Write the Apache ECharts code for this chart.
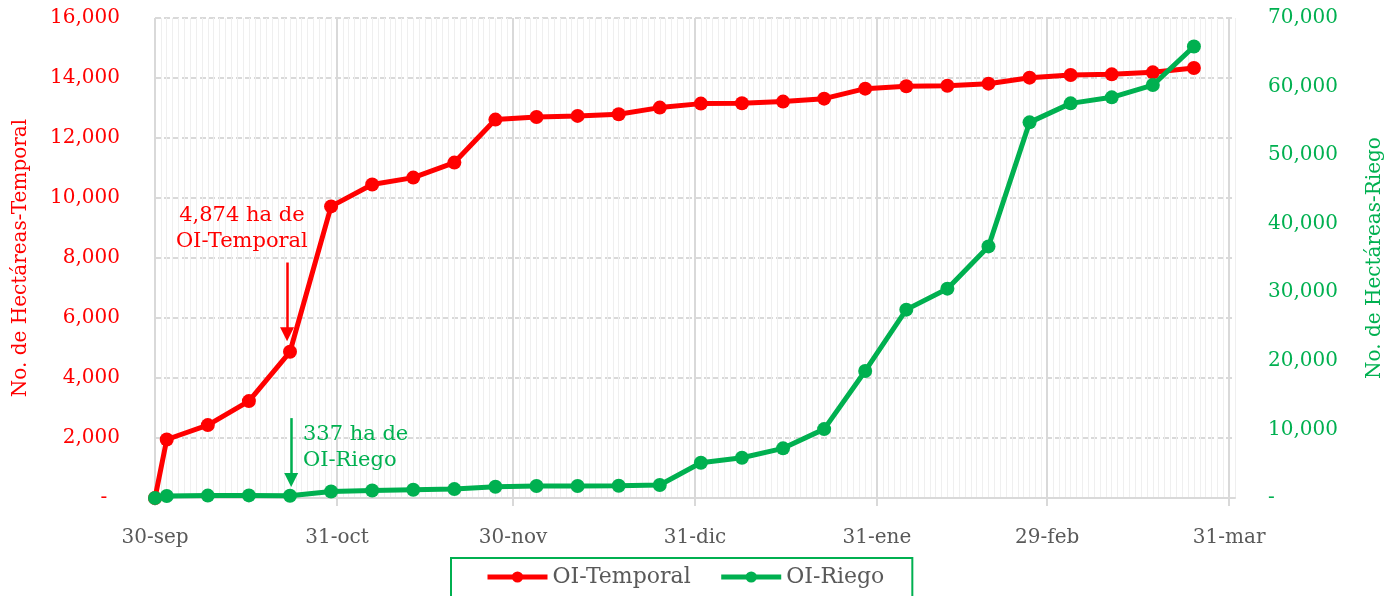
<!DOCTYPE html>
<html>
<head>
<meta charset="utf-8">
<script src="https://cdn.jsdelivr.net/npm/echarts@6/dist/echarts.min.js"></script>
<style>
html,body{margin:0;padding:0;background:#fff;}
#chart{width:1386px;height:596px;}
</style>
</head>
<body>
<div id="chart"></div>
<script>
// ---- data ----
const dates = ['2023-09-30','2023-10-02','2023-10-09','2023-10-16','2023-10-23','2023-10-30',
  '2023-11-06','2023-11-13','2023-11-20','2023-11-27','2023-12-04','2023-12-11','2023-12-18',
  '2023-12-25','2024-01-01','2024-01-08','2024-01-15','2024-01-22','2024-01-29','2024-02-05',
  '2024-02-12','2024-02-19','2024-02-26','2024-03-04','2024-03-11','2024-03-18','2024-03-25'];
const temporal = [0,1950,2430,3230,4874,9720,10450,10680,11180,12614,12700,12736,12790,13013,
  13146,13160,13213,13312,13645,13723,13740,13811,14011,14100,14122,14189,14333];
const riego = [0,300,350,380,337,950,1100,1200,1300,1650,1750,1750,1780,1900,
  5140,5870,7240,10045,18530,27470,30530,36690,54780,57550,58430,60220,65850];
const monthEndDates = ['2023-09-30','2023-10-31','2023-11-30','2023-12-31','2024-01-31','2024-02-29','2024-03-31'];
const monthEndLabels = ['30-sep','31-oct','30-nov','31-dic','31-ene','29-feb','31-mar'];
const startDate = '2023-09-30';
const endDate = '2024-04-01';
const seriesNames = ['OI-Temporal','OI-Riego'];
const annoTemporal = {date:'2023-10-23', value:4874, text:'4,874 ha de\nOI-Temporal'};
const annoRiego = {date:'2023-10-23', value:337, text:'337 ha de\nOI-Riego'};

// ---- helpers ----
function dayOf(s){
  const p = s.split('-').map(Number);
  const q = startDate.split('-').map(Number);
  return Math.round((Date.UTC(p[0],p[1]-1,p[2]) - Date.UTC(q[0],q[1]-1,q[2]))/86400000);
}
const xs = dates.map(dayOf);
const monthEnds = monthEndDates.map(dayOf);
const xMax = dayOf(endDate);
const fmt = v => v === 0 ? '-  ' : v.toLocaleString('en-US');
const fmtR = v => v === 0 ? '-' : v.toLocaleString('en-US');
const FONT = 'DejaVu Serif';
const RED = '#ff0000', GREEN = '#00b050', GRAY = '#595959';
const FS = 20;

const dT = dayOf(annoTemporal.date);
const dR = dayOf(annoRiego.date);

const chart = echarts.init(document.getElementById('chart'));
chart.setOption({
  animation:false,
  backgroundColor:'#fff',
  textStyle:{fontFamily:FONT},
  grid:{left:155, right:151, top:18, bottom:98, containLabel:false, outerBoundsMode:'none'},
  legend:{
    data:seriesNames, bottom:-12, left:451,
    borderColor:GREEN, borderWidth:2, padding:[8,28,20,34],
    itemGap:28, itemWidth:60, itemHeight:14,
    lineStyle:{width:5},
    textStyle:{color:GRAY, fontSize:22, fontFamily:FONT}
  },
  xAxis:[{
    type:'value', min:0, max:xMax, interval:1,
    axisLine:{show:true, lineStyle:{color:'#d9d9d9', width:2}},
    axisTick:{show:false}, axisLabel:{show:false},
    splitLine:{show:true, lineStyle:{color:'#efefef', width:1}}
  },{
    type:'value', min:0, max:xMax, position:'bottom',
    axisLine:{show:false},
    axisTick:{show:true, customValues:monthEnds, length:8, lineStyle:{color:'#d9d9d9', width:2}},
    axisLabel:{show:true, customValues:monthEnds, margin:30, color:GRAY, fontSize:FS, fontFamily:FONT,
      formatter:v => { const i = monthEnds.indexOf(Math.round(v)); return i>=0 ? monthEndLabels[i] : ''; }},
    splitLine:{show:true, lineStyle:{color:'#d9d9d9', width:2}}
  }],
  yAxis:[{
    type:'value', min:0, max:16000, interval:2000, position:'left',
    name:'No. de Hectáreas-Temporal', nameLocation:'middle', nameRotate:90, nameGap:124,
    nameTextStyle:{color:RED, fontSize:FS, fontFamily:FONT},
    axisLine:{show:false}, axisTick:{show:false},
    axisLabel:{color:RED, fontSize:FS, margin:35, fontFamily:FONT, formatter:fmt},
    splitLine:{show:true, lineStyle:{color:'#d9d9d9', width:2, type:[6,3]}}
  },{
    type:'value', min:0, max:70000, interval:10000, position:'right',
    name:'No. de Hectáreas-Riego', nameLocation:'middle', nameRotate:90, nameGap:130,
    nameTextStyle:{color:GREEN, fontSize:FS, fontFamily:FONT},
    axisLine:{show:false}, axisTick:{show:false},
    axisLabel:{color:GREEN, fontSize:FS, margin:33, fontFamily:FONT, formatter:fmtR},
    splitLine:{show:false}
  }],
  series:[{
    name:seriesNames[0], type:'line', xAxisIndex:0, yAxisIndex:0,
    data:xs.map((x,i)=>[x, temporal[i]]),
    symbol:'circle', symbolSize:14, color:RED,
    lineStyle:{width:5, color:RED}, itemStyle:{color:RED},
    markPoint:{silent:true, symbol:'circle', symbolSize:0,
      data:[{coord:[dT-8.2, 8985], value:0,
        label:{show:true, formatter:annoTemporal.text, color:RED, fontSize:21, lineHeight:26, fontFamily:FONT, align:'center', verticalAlign:'middle'}}]},
    markLine:{silent:true, symbol:['none','triangle'], symbolSize:14, label:{show:false},
      lineStyle:{color:RED, width:2.5, type:'solid'},
      data:[[{coord:[dT-0.5, 7850]},{coord:[dT-0.5, 5460]}]]}
  },{
    name:seriesNames[1], type:'line', xAxisIndex:0, yAxisIndex:1,
    data:xs.map((x,i)=>[x, riego[i]]),
    symbol:'circle', symbolSize:14, color:GREEN,
    lineStyle:{width:5, color:GREEN}, itemStyle:{color:GREEN},
    markPoint:{silent:true, symbol:'circle', symbolSize:0,
      data:[{coord:[dR+2.2, 7350], value:0,
        label:{show:true, formatter:annoRiego.text, color:GREEN, fontSize:21, lineHeight:26, fontFamily:FONT, align:'left', verticalAlign:'middle'}}]},
    markLine:{silent:true, symbol:['none','triangle'], symbolSize:14, label:{show:false},
      lineStyle:{color:GREEN, width:2.5, type:'solid'},
      data:[[{coord:[dR+0.2, 11650]},{coord:[dR+0.2, 2620]}]]}
  }]
});
</script>
</body>
</html>
